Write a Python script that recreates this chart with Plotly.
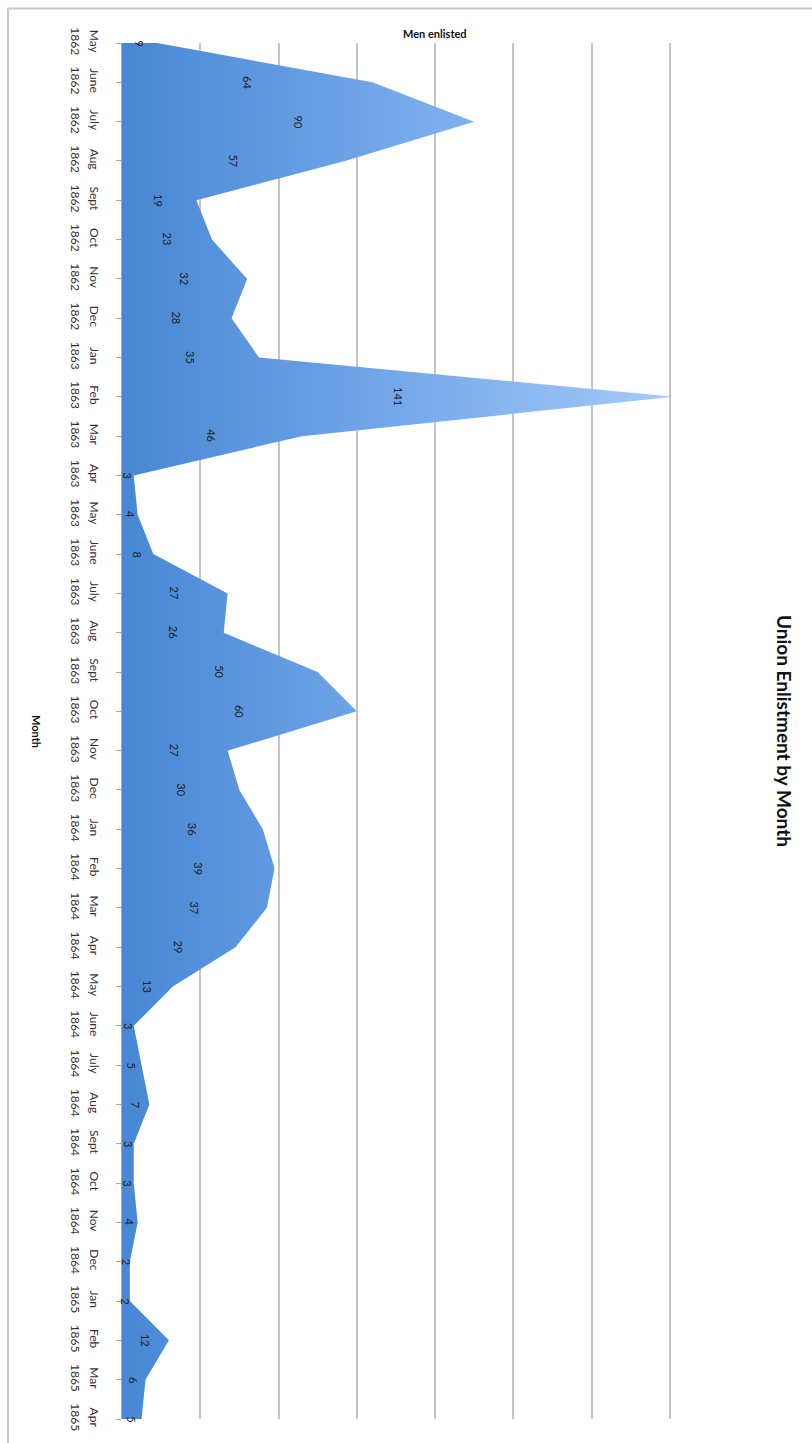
import plotly.graph_objects as go

# Monthly enlistment counts, May 1862 through April 1865
months = ["May", "June", "July", "Aug", "Sept", "Oct", "Nov", "Dec",
          "Jan", "Feb", "Mar", "Apr", "May", "June", "July", "Aug", "Sept", "Oct", "Nov", "Dec",
          "Jan", "Feb", "Mar", "Apr", "May", "June", "July", "Aug", "Sept", "Oct", "Nov", "Dec",
          "Jan", "Feb", "Mar", "Apr"]
years = ["1862"] * 8 + ["1863"] * 12 + ["1864"] * 12 + ["1865"] * 4
enlisted = [9, 64, 90, 57, 19, 23, 32, 28,
            35, 141, 46, 3, 4, 8, 27, 26, 50, 60, 27, 30,
            36, 39, 37, 29, 13, 3, 5, 7, 3, 3, 4, 2,
            2, 12, 6, 5]

categories = [f"{m} {y}" for m, y in zip(months, years)]

FONT = "Lato"
W, H = 812, 1443
L, R, T, B = 122, 64, 43, 24
pw, ph = W - L - R, H - T - B


def px_x(px):
    return (px - L) / pw


def px_y(py):
    return 1 - (py - T) / ph


fig = go.Figure()
fig.add_trace(go.Scatter(
    x=enlisted, y=categories, mode="lines",
    line=dict(width=0, color="#4a8ad6"),
    fill="tozerox",
    fillgradient=dict(type="horizontal", start=0, stop=141,
                      colorscale=[[0, "#4887d4"], [0.45, "#70a5e8"], [1, "#a5cbfa"]]),
    hoverinfo="x+y",
))
# invisible companion trace carrying the year row of the category labels
fig.add_trace(go.Scatter(x=enlisted, y=categories, yaxis="y2", mode="none",
                         hoverinfo="skip", showlegend=False))

# value labels sit halfway along each month's band
for c, v in zip(categories, enlisted):
    fig.add_annotation(x=v / 2, y=c, text=str(v), textangle=90, showarrow=False,
                       font=dict(family=FONT, size=11, color="#222222"))

fig.add_annotation(xref="paper", yref="paper", x=px_x(785), y=0.5, text="Union Enlistment by Month",
                   textangle=90, showarrow=False, xanchor="center", yanchor="middle",
                   font=dict(family=FONT, size=19, color="#111111", weight="bold"))
fig.add_annotation(xref="paper", yref="paper", x=0.5, y=px_y(33), text="<b>Men enlisted</b>",
                   showarrow=False, xanchor="center", yanchor="middle",
                   font=dict(family=FONT, size=11, color="#111111"))
fig.add_annotation(xref="paper", yref="paper", x=px_x(37), y=px_y(731), text="<b>Month</b>",
                   textangle=90, showarrow=False, xanchor="center", yanchor="middle",
                   font=dict(family=FONT, size=11, color="#111111"))

# chart-area frame
fig.add_shape(type="rect", xref="paper", yref="paper",
              x0=px_x(8), x1=px_x(830), y0=px_y(1460), y1=px_y(8.5),
              line=dict(color="#c9c9c9", width=2), fillcolor="rgba(0,0,0,0)", layer="below")

tick_font = dict(family=FONT, size=12, color="#333333")
cat_range = [len(categories) - 1, 0]

fig.update_layout(
    width=W, height=H,
    margin=dict(l=L, r=R, t=T, b=B),
    paper_bgcolor="white", plot_bgcolor="white",
    showlegend=False,
    xaxis=dict(range=[0, 160], dtick=20, showticklabels=False, showgrid=True,
               gridcolor="#c4c4c4", gridwidth=2, zeroline=False, showline=False, fixedrange=True),
    yaxis=dict(type="category", categoryorder="array", categoryarray=categories,
               range=cat_range, showgrid=False, zeroline=False,
               showline=True, linecolor="#a6a6a6", linewidth=1,
               ticks="outside", ticklen=5, tickcolor="#a6a6a6", tickangle=90,
               tickmode="array", tickvals=categories, ticktext=months,
               ticklabelstandoff=12, tickfont=tick_font),
    yaxis2=dict(type="category", categoryorder="array", categoryarray=categories,
                range=cat_range, overlaying="y", side="left", showgrid=False,
                zeroline=False, showline=False, ticks="", tickangle=90,
                tickmode="array", tickvals=categories, ticktext=years,
                ticklabelstandoff=38, tickfont=tick_font),
)

fig.write_html("out.html")
